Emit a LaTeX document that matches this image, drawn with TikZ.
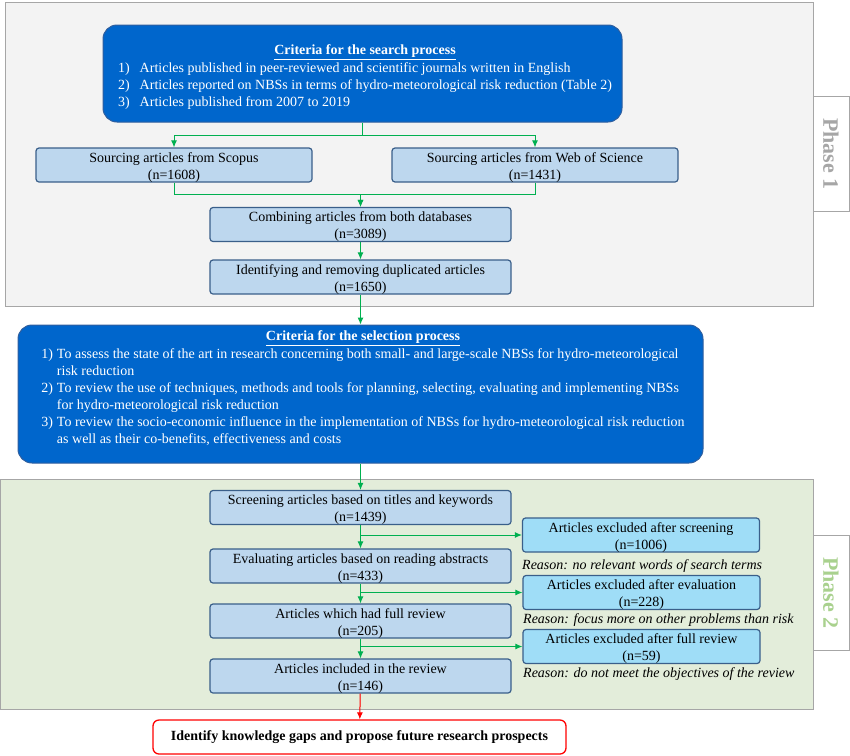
\documentclass[tikz,border=0pt]{standalone}
\usepackage{fontspec}
\setmainfont{Liberation Serif}
\usepackage{xcolor}
\usepackage{tikz}
\usetikzlibrary{positioning, arrows.meta}

\definecolor{critblue}{HTML}{0066CC}
\definecolor{critedge}{HTML}{2F5E9E}
\definecolor{boxfill}{HTML}{BDD7EE}
\definecolor{boxedge}{HTML}{3A5F8A}
\definecolor{exclfill}{HTML}{9FDDF7}
\definecolor{flowgreen}{HTML}{00B050}
\definecolor{panelgrey}{HTML}{A6A6A6}
\definecolor{panelone}{HTML}{F3F3F3}
\definecolor{paneltwo}{HTML}{E3EDDA}
\definecolor{phasetwotext}{HTML}{A9D18E}

\tikzset{
    crit/.style={rounded corners=14pt, draw=critedge, fill=critblue, line width=1pt},
    crittext/.style={text=white, align=center, inner sep=0pt},
    stepbox/.style={rounded corners=3pt, draw=boxedge, fill=boxfill, line width=1.2pt,
        minimum width=301pt, align=center, inner xsep=1pt, inner ysep=0pt,
        text height=31pt, text depth=3pt},
    exclbox/.style={stepbox, fill=exclfill, minimum width=237pt},
    reason/.style={anchor=west, inner sep=0pt, font=\fontsize{14}{17}\selectfont\itshape},
    phasetab/.style={draw=panelgrey, fill=white, line width=0.8pt, rotate=-90,
        minimum width=115pt, minimum height=36pt, font=\fontsize{22}{26}\selectfont\bfseries},
    arr/.style={-{Latex[length=7pt, width=6pt]}, draw=flowgreen, line width=1pt},
}

\begin{document}
\begin{tikzpicture}[x=1pt, y=-1pt, every node/.append style={font=\fontsize{14}{17}\selectfont}]
    \useasboundingbox (0, 0) rectangle (850, 755);

    % Phase 1
    \draw[draw=panelgrey, fill=panelone, line width=1pt] (5, 2) rectangle (813, 306);
    \node[phasetab, text=panelgrey] at (831, 154) (tabone) {Phase 1};

    \node[crit, minimum width=519pt, minimum height=97pt] at (362.5, 73.5) (search) {};
    \node[crittext] at (365, 78) (searchtext) {\underline{\textbf{Criteria for the search process}}\\
        \begin{tabular}{@{}l@{\hspace{10pt}}l@{}}
            1) & Articles published in peer-reviewed and scientific journals written in English\\
            2) & Articles reported on NBSs in terms of hydro-meteorological risk reduction (Table 2)\\
            3) & Articles published from 2007 to 2019
        \end{tabular}};

    \node[stepbox, minimum width=276pt] at (174, 165) (scopus) {Sourcing articles from Scopus\\(n=1608)};
    \node[stepbox, minimum width=286pt] at (535, 165) (wos) {Sourcing articles from Web of Science\\(n=1431)};
    \node[stepbox] at (360.5, 224.5) (combine) {Combining articles from both databases\\(n=3089)};
    \node[stepbox] at (360.5, 277) (dedup) {Identifying and removing duplicated articles\\(n=1650)};

    % Phase 2
    \draw[draw=panelgrey, fill=paneltwo, line width=1pt] (0, 479) rectangle (813, 709);
    \node[phasetab, text=phasetwotext] at (831, 593) (tabtwo) {Phase 2};

    \node[crit, minimum width=685pt, minimum height=138pt] at (360.5, 394) (select) {};
    \node[crittext] at (363, 390) (selecttext) {\underline{\textbf{Criteria for the selection process}}\\
        \begin{tabular}{@{}l@{\hspace{4pt}}l@{}}
            1) & To assess the state of the art in research concerning both small- and large-scale NBSs for hydro-meteorological\\
               & risk reduction\\
            2) & To review the use of techniques, methods and tools for planning, selecting, evaluating and implementing NBSs\\
               & for hydro-meteorological risk reduction\\
            3) & To review the socio-economic influence in the implementation of NBSs for hydro-meteorological risk reduction\\
               & as well as their co-benefits, effectiveness and costs
        \end{tabular}};

    \node[stepbox] at (360.5, 507.5) (screen) {Screening articles based on titles and keywords\\(n=1439)};
    \node[stepbox] at (360.5, 566) (evaluate) {Evaluating articles based on reading abstracts\\(n=433)};
    \node[stepbox] at (360.5, 621) (fullrev) {Articles which had full review\\(n=205)};
    \node[stepbox] at (360.5, 676) (included) {Articles included in the review\\(n=146)};

    \node[exclbox] at (641, 535) (exclscreen) {Articles excluded after screening\\(n=1006)};
    \node[exclbox] at (641.5, 592.5) (exclevaluate) {Articles excluded after evaluation\\(n=228)};
    \node[exclbox] at (641.5, 646.5) (exclfull) {Articles excluded after full review\\(n=59)};

    \node[reason] at (522, 566) (reasonscreen) {Reason: no relevant words of search terms};
    \node[reason] at (523, 620) (reasonevaluate) {Reason: focus more on other problems than risk};
    \node[reason] at (523, 674) (reasonfull) {Reason: do not meet the objectives of the review};

    \node[draw=red, fill=white, rounded corners=6pt, line width=1.3pt, minimum width=413pt, minimum height=34pt]
        at (359.5, 737) (prospects) {\textbf{Identify knowledge gaps and propose future research prospects}};

    % connectors
    \draw[arr] (search.south) -- ++(0, 13) -| (scopus.north);
    \draw[arr] (search.south) -- ++(0, 13) -| (wos.north);
    \draw[arr] (scopus.south) -- ++(0, 12) -| (combine.north);
    \draw[arr] (wos.south) -- ++(0, 12) -| (combine.north);
    \draw[arr] (combine) -- (dedup);
    \draw[arr] (dedup) -- (select);
    \draw[arr] (select) -- (screen);
    \draw[arr] (screen) -- (evaluate);
    \draw[arr] (evaluate) -- (fullrev);
    \draw[arr] (fullrev) -- (included);
    \draw[arr] (screen.south |- exclscreen.west) -- (exclscreen.west);
    \draw[arr] (evaluate.south |- exclevaluate.west) -- (exclevaluate.west);
    \draw[arr] (fullrev.south |- exclfull.west) -- (exclfull.west);
    \draw[arr, draw=red, fill=red] (included) -- (prospects);
\end{tikzpicture}
\end{document}
